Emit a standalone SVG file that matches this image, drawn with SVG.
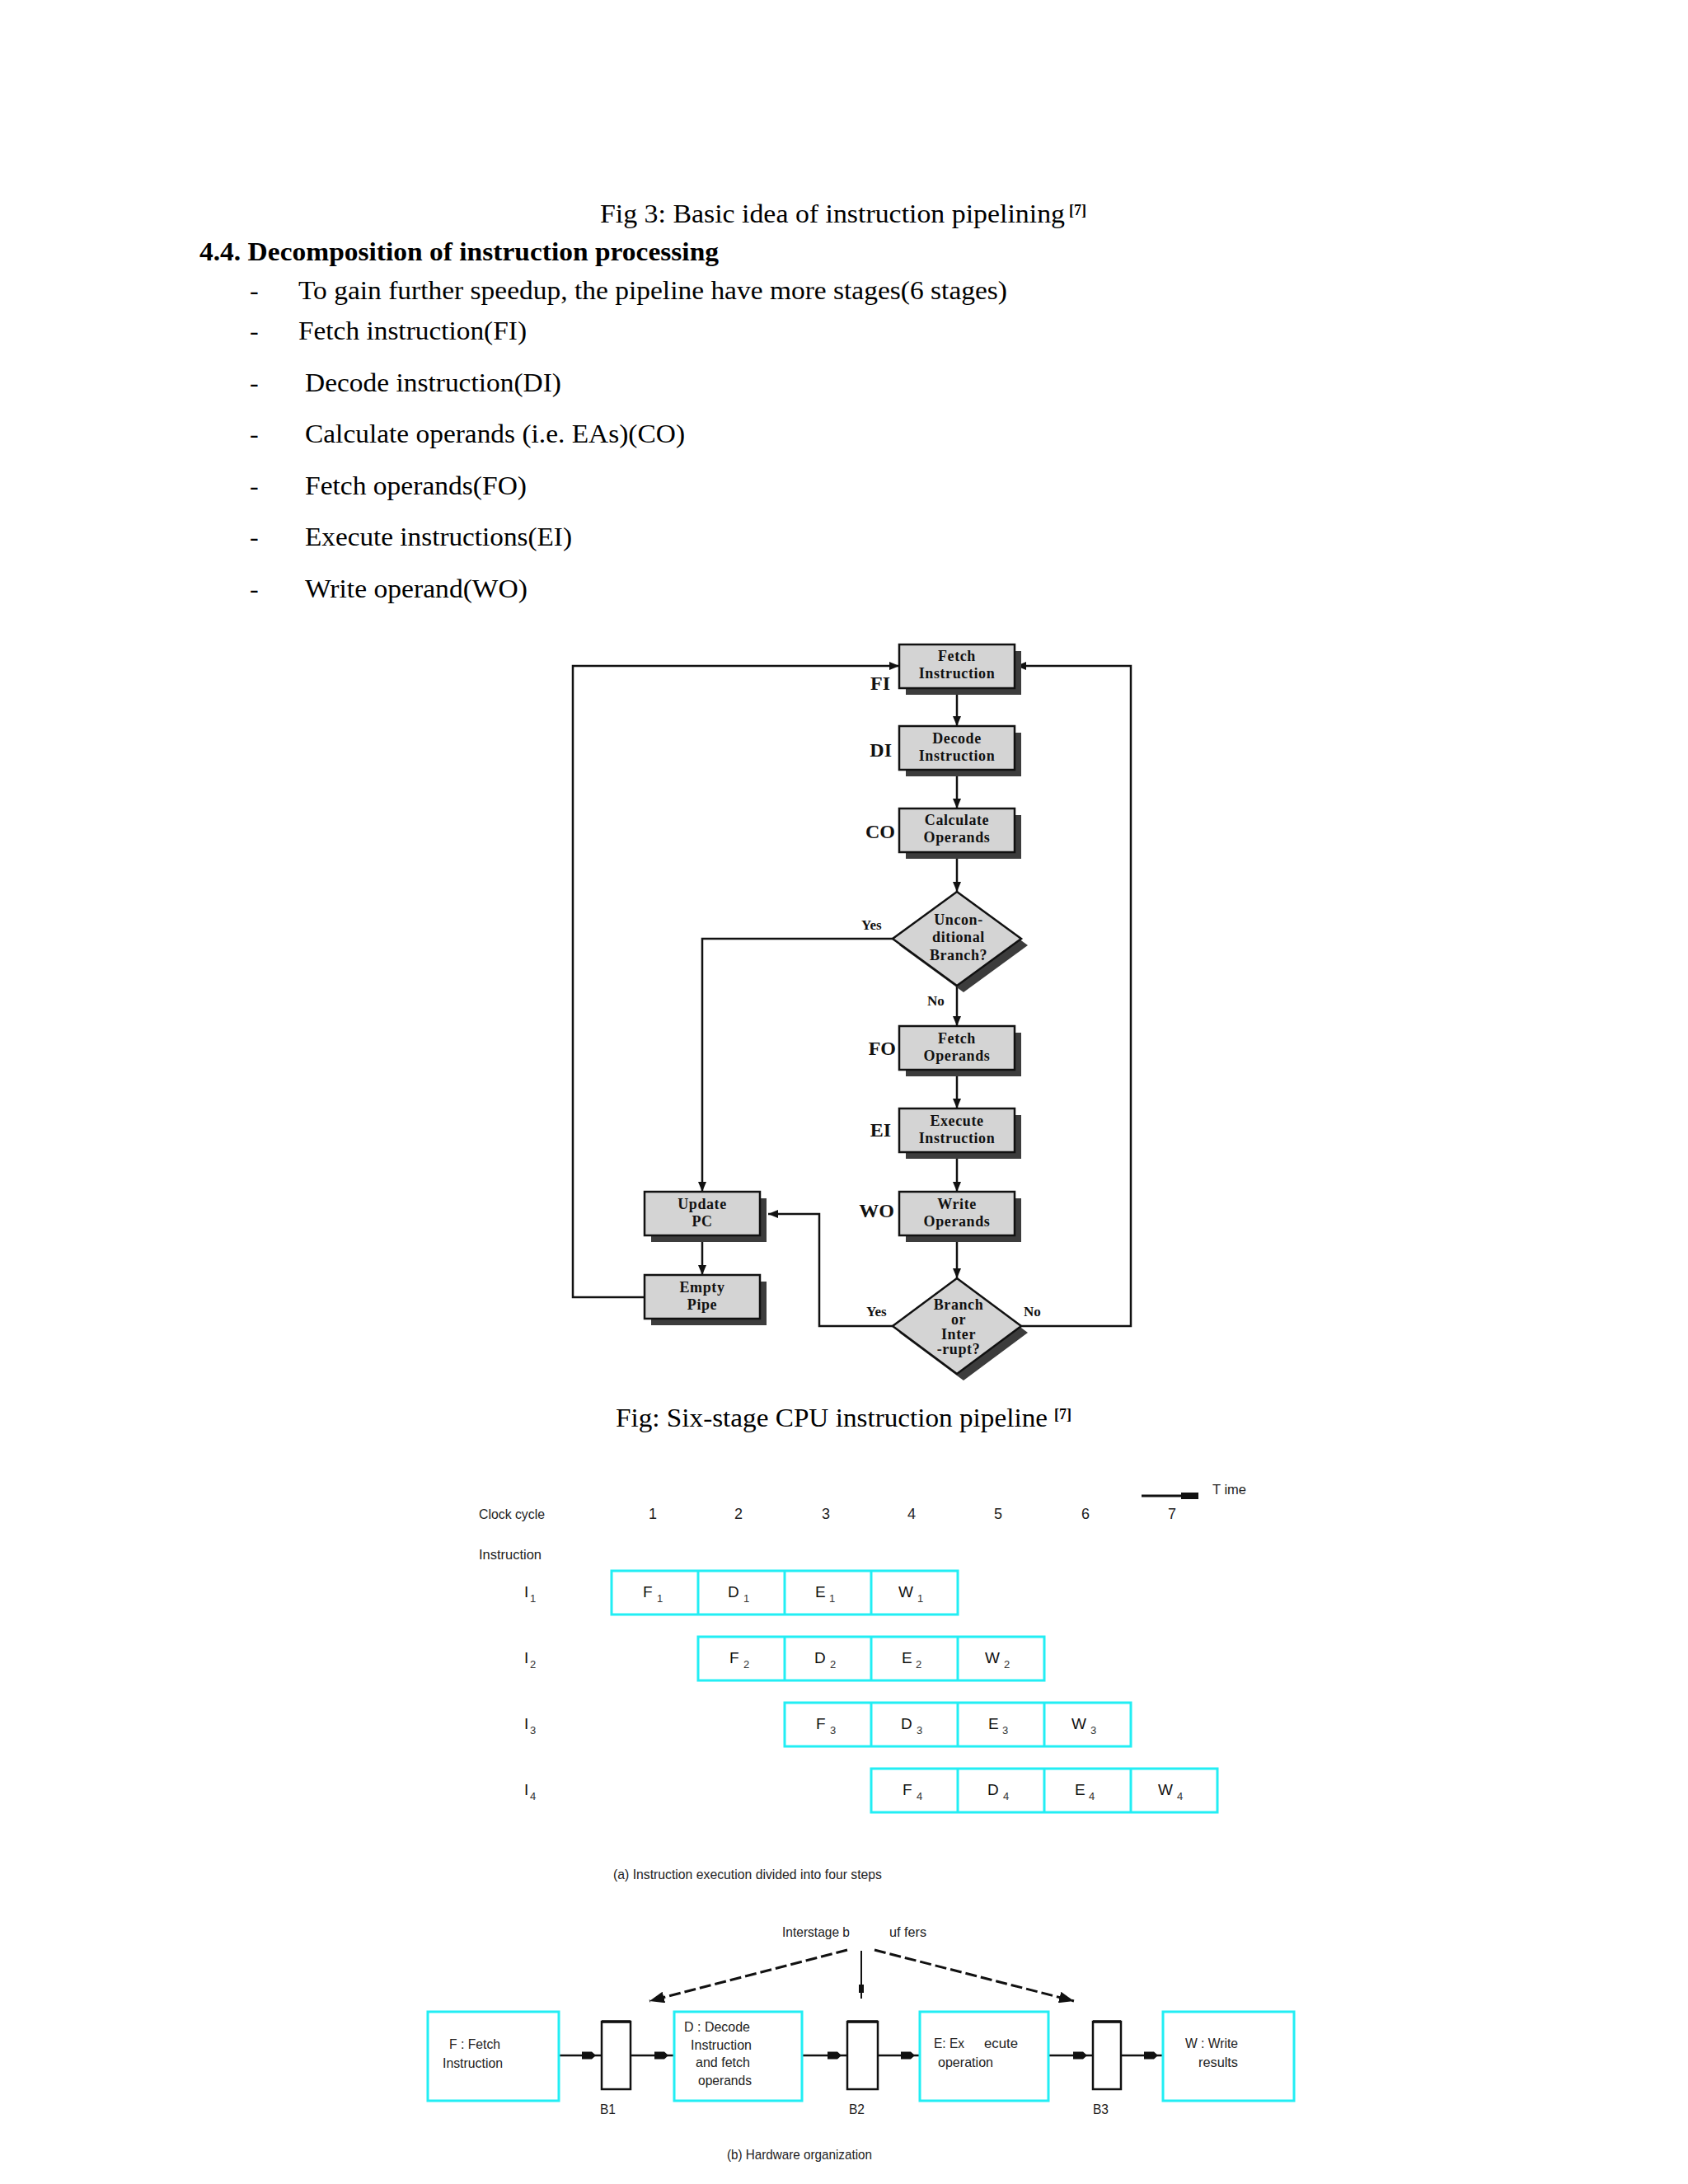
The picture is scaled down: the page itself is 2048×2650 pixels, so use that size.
<svg xmlns="http://www.w3.org/2000/svg" width="2048" height="2650" viewBox="0 0 2048 2650">
<style>
.body{font-family:"Liberation Serif","Times New Roman",serif;font-size:32px;fill:#000}
.head{font-family:"Liberation Serif","Times New Roman",serif;font-size:32px;font-weight:bold;fill:#000}
.sup{font-family:"Liberation Serif","Times New Roman",serif;font-size:18px;font-weight:bold;fill:#000}
.box{fill:#d4d4d4;stroke:#111;stroke-width:2.5}
.shd{fill:#3c3c3c}
.nt{font-family:"Liberation Serif","Times New Roman",serif;font-size:18px;font-weight:bold;letter-spacing:0.6px;text-anchor:middle;fill:#111}
.lab{font-family:"Liberation Serif","Times New Roman",serif;font-size:24px;font-weight:bold;text-anchor:end;fill:#111}
.yn{font-family:"Liberation Serif","Times New Roman",serif;font-size:17px;font-weight:bold;fill:#111}
.ln{fill:none;stroke:#111;stroke-width:2.5}
.sans{font-family:"Liberation Sans Narrow","Liberation Sans",Arial,sans-serif;font-size:17px;fill:#222}
.num{font-family:"Liberation Sans Narrow","Liberation Sans",Arial,sans-serif;font-size:18px;fill:#222;text-anchor:middle}
.cell{font-family:"Liberation Sans Narrow","Liberation Sans",Arial,sans-serif;font-size:19px;fill:#111}
.sub{font-family:"Liberation Sans Narrow","Liberation Sans",Arial,sans-serif;font-size:13px;fill:#333}
.cy{fill:none;stroke:#22eef4;stroke-width:3}
.buf{fill:#fff;stroke:#111;stroke-width:2.5}
.hw{fill:none;stroke:#111;stroke-width:2.5}
.dash{fill:none;stroke:#111;stroke-width:3;stroke-dasharray:14 5}
</style>
<defs>
<marker id="ah" viewBox="0 0 12 12" refX="12" refY="6" markerWidth="12" markerHeight="12" orient="auto" markerUnits="userSpaceOnUse"><path d="M0,1 L12,6 L0,11 z" fill="#111"/></marker>
<marker id="blk" viewBox="0 0 23 10" refX="23" refY="5" markerWidth="23" markerHeight="10" orient="auto" markerUnits="userSpaceOnUse"><path d="M0,0.5 H12 L17,5 L12,9.5 H0 z" fill="#111"/></marker>
<marker id="dh" viewBox="0 0 18 14" refX="18" refY="7" markerWidth="18" markerHeight="14" orient="auto" markerUnits="userSpaceOnUse"><path d="M0,0 L18,7 L0,14 z" fill="#111"/></marker>
</defs>
<rect width="2048" height="2650" fill="#fff"/>

<!-- Text section -->
<g id="text-section">
<text class="body" x="728" y="270" textLength="564" lengthAdjust="spacingAndGlyphs">Fig 3:  Basic idea of instruction pipelining</text>
<text class="sup" x="1297" y="261">[7]</text>
<text class="head" x="242" y="316" textLength="630" lengthAdjust="spacingAndGlyphs">4.4. Decomposition of instruction processing</text>
<text class="body" x="303" y="363">-</text><text class="body" x="362" y="363" textLength="860" lengthAdjust="spacingAndGlyphs">To gain further speedup, the pipeline have more stages(6 stages)</text>
<text class="body" x="303" y="412">-</text><text class="body" x="362" y="412" textLength="277" lengthAdjust="spacingAndGlyphs">Fetch instruction(FI)</text>
<text class="body" x="303" y="475">-</text><text class="body" x="370" y="475" textLength="311" lengthAdjust="spacingAndGlyphs">Decode instruction(DI)</text>
<text class="body" x="303" y="537">-</text><text class="body" x="370" y="537" textLength="461" lengthAdjust="spacingAndGlyphs">Calculate operands (i.e. EAs)(CO)</text>
<text class="body" x="303" y="600">-</text><text class="body" x="370" y="600" textLength="269" lengthAdjust="spacingAndGlyphs">Fetch operands(FO)</text>
<text class="body" x="303" y="662">-</text><text class="body" x="370" y="662" textLength="324" lengthAdjust="spacingAndGlyphs">Execute instructions(EI)</text>
<text class="body" x="303" y="725">-</text><text class="body" x="370" y="725" textLength="270" lengthAdjust="spacingAndGlyphs">Write operand(WO)</text>
</g>

<!-- Flowchart connectors -->
<g id="flow-connectors">
<line class="ln" x1="1161" y1="835" x2="1161" y2="881" marker-end="url(#ah)"/>
<line class="ln" x1="1161" y1="934" x2="1161" y2="981" marker-end="url(#ah)"/>
<line class="ln" x1="1161" y1="1034" x2="1161" y2="1082" marker-end="url(#ah)"/>
<line class="ln" x1="1161" y1="1196" x2="1161" y2="1245" marker-end="url(#ah)"/>
<line class="ln" x1="1161" y1="1298" x2="1161" y2="1345" marker-end="url(#ah)"/>
<line class="ln" x1="1161" y1="1398" x2="1161" y2="1446" marker-end="url(#ah)"/>
<line class="ln" x1="1161" y1="1499" x2="1161" y2="1551" marker-end="url(#ah)"/>
<polyline class="ln" points="1083,1139 852,1139 852,1446" marker-end="url(#ah)"/>
<line class="ln" x1="852" y1="1499" x2="852" y2="1547" marker-end="url(#ah)"/>
<polyline class="ln" points="782,1574 695,1574 695,808 1091,808" marker-end="url(#ah)"/>
<polyline class="ln" points="1084,1609 994,1609 994,1473 932,1473" marker-end="url(#ah)"/>
<polyline class="ln" points="1238,1609 1372,1609 1372,808 1233,808" marker-end="url(#ah)"/>
</g>

<!-- Flowchart nodes -->
<g id="fi">
<rect class="shd" x="1099" y="790" width="140" height="53"/>
<rect class="box" x="1091" y="782" width="140" height="53"/>
<text class="nt" x="1161" y="802">Fetch</text><text class="nt" x="1161" y="823">Instruction</text>
<text class="lab" x="1080" y="837">FI</text>
</g>
<g id="di">
<rect class="shd" x="1099" y="889" width="140" height="53"/>
<rect class="box" x="1091" y="881" width="140" height="53"/>
<text class="nt" x="1161" y="902">Decode</text><text class="nt" x="1161" y="923">Instruction</text>
<text class="lab" x="1082" y="918">DI</text>
</g>
<g id="co">
<rect class="shd" x="1099" y="989" width="140" height="53"/>
<rect class="box" x="1091" y="981" width="140" height="53"/>
<text class="nt" x="1161" y="1001">Calculate</text><text class="nt" x="1161" y="1022">Operands</text>
<text class="lab" x="1086" y="1017">CO</text>
</g>
<g id="uncond">
<polygon class="shd" points="1169,1090 1247,1147 1169,1204 1091,1147"/>
<polygon class="box" points="1161,1082 1239,1139 1161,1196 1083,1139"/>
<text class="nt" x="1163" y="1122">Uncon-</text><text class="nt" x="1163" y="1143">ditional</text><text class="nt" x="1163" y="1165">Branch?</text>
<text class="yn" x="1045" y="1128">Yes</text>
<text class="yn" x="1125" y="1220">No</text>
</g>
<g id="fo">
<rect class="shd" x="1099" y="1253" width="140" height="53"/>
<rect class="box" x="1091" y="1245" width="140" height="53"/>
<text class="nt" x="1161" y="1266">Fetch</text><text class="nt" x="1161" y="1287">Operands</text>
<text class="lab" x="1087" y="1280">FO</text>
</g>
<g id="ei">
<rect class="shd" x="1099" y="1353" width="140" height="53"/>
<rect class="box" x="1091" y="1345" width="140" height="53"/>
<text class="nt" x="1161" y="1366">Execute</text><text class="nt" x="1161" y="1387">Instruction</text>
<text class="lab" x="1081" y="1379">EI</text>
</g>
<g id="wo">
<rect class="shd" x="1099" y="1454" width="140" height="53"/>
<rect class="box" x="1091" y="1446" width="140" height="53"/>
<text class="nt" x="1161" y="1467">Write</text><text class="nt" x="1161" y="1488">Operands</text>
<text class="lab" x="1085" y="1477">WO</text>
</g>
<g id="branch">
<polygon class="shd" points="1169,1559 1247,1617 1169,1675 1091,1617"/>
<polygon class="box" points="1161,1551 1239,1609 1161,1667 1083,1609"/>
<text class="nt" x="1163" y="1589">Branch</text><text class="nt" x="1163" y="1607">or</text><text class="nt" x="1163" y="1625">Inter</text><text class="nt" x="1163" y="1643">-rupt?</text>
<text class="yn" x="1051" y="1597">Yes</text>
<text class="yn" x="1242" y="1597">No</text>
</g>
<g id="updatepc">
<rect class="shd" x="790" y="1454" width="140" height="53"/>
<rect class="box" x="782" y="1446" width="140" height="53"/>
<text class="nt" x="852" y="1467">Update</text><text class="nt" x="852" y="1488">PC</text>
</g>
<g id="emptypipe">
<rect class="shd" x="790" y="1555" width="140" height="53"/>
<rect class="box" x="782" y="1547" width="140" height="53"/>
<text class="nt" x="852" y="1568">Empty</text><text class="nt" x="852" y="1589">Pipe</text>
</g>
<text class="body" x="747" y="1731" textLength="524" lengthAdjust="spacingAndGlyphs">Fig: Six-stage CPU instruction pipeline</text>
<text class="sup" x="1279" y="1722">[7]</text>

<!-- Timing diagram -->
<g id="timing-axis">
<line x1="1385" y1="1815" x2="1440" y2="1815" stroke="#111" stroke-width="3"/>
<rect x="1433" y="1811" width="21" height="8" fill="#111"/>
<text class="sans" x="1471" y="1813" textLength="41" lengthAdjust="spacingAndGlyphs">T ime</text>
<text class="sans" x="581" y="1843" textLength="80" lengthAdjust="spacingAndGlyphs">Clock cycle</text>
<text class="num" x="792" y="1843">1</text>
<text class="num" x="896" y="1843">2</text>
<text class="num" x="1002" y="1843">3</text>
<text class="num" x="1106" y="1843">4</text>
<text class="num" x="1211" y="1843">5</text>
<text class="num" x="1317" y="1843">6</text>
<text class="num" x="1422" y="1843">7</text>
<text class="sans" x="581" y="1892" textLength="76" lengthAdjust="spacingAndGlyphs">Instruction</text>
</g>
<g id="row1">
<text class="cell" x="636" y="1938">I</text><text class="sub" x="643" y="1944">1</text>
<rect class="cy" x="742" y="1906" width="420" height="53"/>
<line class="cy" x1="847" y1="1906" x2="847" y2="1959"/><line class="cy" x1="952" y1="1906" x2="952" y2="1959"/><line class="cy" x1="1057" y1="1906" x2="1057" y2="1959"/>
<text class="cell" x="780" y="1938">F</text><text class="sub" x="797" y="1944">1</text>
<text class="cell" x="883" y="1938">D</text><text class="sub" x="902" y="1944">1</text>
<text class="cell" x="989" y="1938">E</text><text class="sub" x="1006" y="1944">1</text>
<text class="cell" x="1090" y="1938">W</text><text class="sub" x="1113" y="1944">1</text>
</g>
<g id="row2">
<text class="cell" x="636" y="2018">I</text><text class="sub" x="643" y="2024">2</text>
<rect class="cy" x="847" y="1986" width="420" height="53"/>
<line class="cy" x1="952" y1="1986" x2="952" y2="2039"/><line class="cy" x1="1057" y1="1986" x2="1057" y2="2039"/><line class="cy" x1="1162" y1="1986" x2="1162" y2="2039"/>
<text class="cell" x="885" y="2018">F</text><text class="sub" x="902" y="2024">2</text>
<text class="cell" x="988" y="2018">D</text><text class="sub" x="1007" y="2024">2</text>
<text class="cell" x="1094" y="2018">E</text><text class="sub" x="1111" y="2024">2</text>
<text class="cell" x="1195" y="2018">W</text><text class="sub" x="1218" y="2024">2</text>
</g>
<g id="row3">
<text class="cell" x="636" y="2098">I</text><text class="sub" x="643" y="2104">3</text>
<rect class="cy" x="952" y="2066" width="420" height="53"/>
<line class="cy" x1="1057" y1="2066" x2="1057" y2="2119"/><line class="cy" x1="1162" y1="2066" x2="1162" y2="2119"/><line class="cy" x1="1267" y1="2066" x2="1267" y2="2119"/>
<text class="cell" x="990" y="2098">F</text><text class="sub" x="1007" y="2104">3</text>
<text class="cell" x="1093" y="2098">D</text><text class="sub" x="1112" y="2104">3</text>
<text class="cell" x="1199" y="2098">E</text><text class="sub" x="1216" y="2104">3</text>
<text class="cell" x="1300" y="2098">W</text><text class="sub" x="1323" y="2104">3</text>
</g>
<g id="row4">
<text class="cell" x="636" y="2178">I</text><text class="sub" x="643" y="2184">4</text>
<rect class="cy" x="1057" y="2146" width="420" height="53"/>
<line class="cy" x1="1162" y1="2146" x2="1162" y2="2199"/><line class="cy" x1="1267" y1="2146" x2="1267" y2="2199"/><line class="cy" x1="1372" y1="2146" x2="1372" y2="2199"/>
<text class="cell" x="1095" y="2178">F</text><text class="sub" x="1112" y="2184">4</text>
<text class="cell" x="1198" y="2178">D</text><text class="sub" x="1217" y="2184">4</text>
<text class="cell" x="1304" y="2178">E</text><text class="sub" x="1321" y="2184">4</text>
<text class="cell" x="1405" y="2178">W</text><text class="sub" x="1428" y="2184">4</text>
</g>
<text class="sans" x="744" y="2280" textLength="326" lengthAdjust="spacingAndGlyphs">(a) Instruction execution divided into four steps</text>

<!-- Hardware organization connectors -->
<g id="hw-connectors">
<line class="dash" x1="1028" y1="2366" x2="788" y2="2428" marker-end="url(#dh)"/>
<line class="dash" x1="1061" y1="2366" x2="1303" y2="2428" marker-end="url(#dh)"/>
<line x1="1045" y1="2367" x2="1045" y2="2425" stroke="#111" stroke-width="2"/>
<rect x="1042" y="2408" width="6" height="10" fill="#111"/>
<line class="hw" x1="678" y1="2494" x2="729" y2="2494" marker-end="url(#blk)"/>
<line class="hw" x1="765" y1="2494" x2="817" y2="2494" marker-end="url(#blk)"/>
<line class="hw" x1="974" y1="2494" x2="1027" y2="2494" marker-end="url(#blk)"/>
<line class="hw" x1="1066" y1="2494" x2="1116" y2="2494" marker-end="url(#blk)"/>
<line class="hw" x1="1273" y1="2494" x2="1325" y2="2494" marker-end="url(#blk)"/>
<line class="hw" x1="1360" y1="2494" x2="1411" y2="2494" marker-end="url(#blk)"/>
</g>
<text class="sans" x="949" y="2350" textLength="82" lengthAdjust="spacingAndGlyphs">Interstage b</text>
<text class="sans" x="1079" y="2350" textLength="45" lengthAdjust="spacingAndGlyphs">uf fers</text>
<g id="hw-f">
<rect class="cy" x="519" y="2441" width="159" height="108"/>
<text class="sans" x="545" y="2486" textLength="62" lengthAdjust="spacingAndGlyphs">F : Fetch</text>
<text class="sans" x="537" y="2509" textLength="73" lengthAdjust="spacingAndGlyphs">Instruction</text>
</g>
<g id="hw-b1">
<rect class="buf" x="730" y="2453" width="35" height="82"/>
<line x1="730" y1="2453" x2="765" y2="2453" stroke="#111" stroke-width="3.5"/>
<text class="sans" x="728" y="2565" textLength="19" lengthAdjust="spacingAndGlyphs">B1</text>
</g>
<g id="hw-d">
<rect class="cy" x="818" y="2441" width="155" height="108"/>
<text class="sans" x="830" y="2465" textLength="80" lengthAdjust="spacingAndGlyphs">D : Decode</text>
<text class="sans" x="838" y="2487" textLength="74" lengthAdjust="spacingAndGlyphs">Instruction</text>
<text class="sans" x="844" y="2508" textLength="66" lengthAdjust="spacingAndGlyphs">and fetch</text>
<text class="sans" x="847" y="2530" textLength="65" lengthAdjust="spacingAndGlyphs">operands</text>
</g>
<g id="hw-b2">
<rect class="buf" x="1028" y="2453" width="37" height="82"/>
<line x1="1028" y1="2453" x2="1065" y2="2453" stroke="#111" stroke-width="3.5"/>
<text class="sans" x="1030" y="2565" textLength="19" lengthAdjust="spacingAndGlyphs">B2</text>
</g>
<g id="hw-e">
<rect class="cy" x="1116" y="2441" width="156" height="108"/>
<text class="sans" x="1133" y="2485" textLength="37" lengthAdjust="spacingAndGlyphs">E: Ex</text>
<text class="sans" x="1194" y="2485" textLength="41" lengthAdjust="spacingAndGlyphs">ecute</text>
<text class="sans" x="1138" y="2508" textLength="67" lengthAdjust="spacingAndGlyphs">operation</text>
</g>
<g id="hw-b3">
<rect class="buf" x="1326" y="2453" width="34" height="82"/>
<line x1="1326" y1="2453" x2="1360" y2="2453" stroke="#111" stroke-width="3.5"/>
<text class="sans" x="1326" y="2565" textLength="19" lengthAdjust="spacingAndGlyphs">B3</text>
</g>
<g id="hw-w">
<rect class="cy" x="1411" y="2441" width="159" height="108"/>
<text class="sans" x="1438" y="2485" textLength="64" lengthAdjust="spacingAndGlyphs">W : Write</text>
<text class="sans" x="1454" y="2508" textLength="48" lengthAdjust="spacingAndGlyphs">results</text>
</g>
<text class="sans" x="882" y="2620" textLength="176" lengthAdjust="spacingAndGlyphs">(b) Hardware organization</text>
</svg>
